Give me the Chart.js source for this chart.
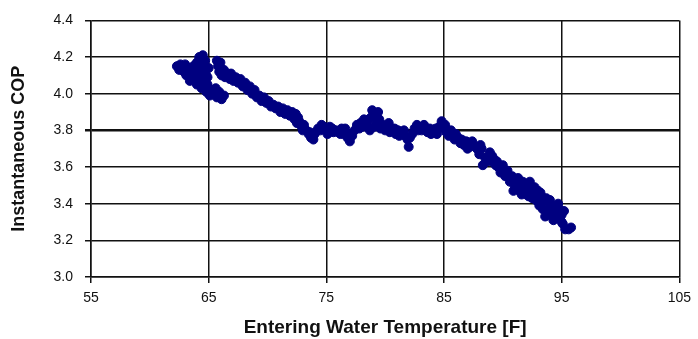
<!DOCTYPE html>
<html>
<head>
<meta charset="utf-8">
<title>Instantaneous COP vs Entering Water Temperature</title>
<script src="https://cdn.jsdelivr.net/npm/chart.js@4.4.1/dist/chart.umd.min.js"></script>
<style>
  html, body { margin: 0; padding: 0; background: #fff; }
  #wrap { width: 698px; height: 339px; }
</style>
</head>
<body>
<div id="wrap"><canvas id="copChart" width="698" height="339"></canvas></div>
<script>
// Entering water temperature [F] for each logged sample
const ewtF = [
  62.3, 62.5, 62.6, 62.8, 63.0, 63.0, 63.2, 63.3, 63.5, 63.6, 63.7, 63.8, 63.9, 64.0, 64.0, 64.1,
  64.2, 64.3, 64.4, 64.4, 64.5, 64.6, 64.7, 64.7, 64.8, 64.9, 65.0, 65.0, 65.1, 65.3, 65.4, 65.6,
  65.7, 65.9, 66.1, 66.3, 63.4, 64.1, 64.6, 64.9, 65.2,
  63.1, 63.6, 63.9, 64.3, 64.5, 64.8, 65.0, 65.5, 62.9,
  65.7, 65.8, 65.9, 66.0, 66.1, 66.3, 66.4, 66.6, 66.8, 66.9, 67.1, 67.3, 67.5, 67.7, 67.9, 68.1,
  68.3, 68.5, 68.7, 68.9, 69.1, 69.3, 69.5, 69.7, 69.9, 70.1, 70.3, 70.5, 70.7, 70.9, 71.1, 71.3,
  71.5, 71.7, 71.9, 72.1, 72.3, 72.4,
  72.5, 72.7, 72.9, 73.1, 73.3, 73.5, 73.7, 73.9, 74.1, 74.3, 74.5, 74.8, 75.0, 75.3, 75.5, 75.8,
  76.0, 76.3, 76.5, 76.8, 77.0, 77.2, 77.4, 77.6, 77.9, 78.1, 78.3, 78.5, 78.7, 78.8, 79.0, 79.2,
  79.3, 79.5, 79.6, 79.8, 80.0, 78.9, 79.4, 79.1, 80.3,
  72.6, 73.0, 73.6, 74.0, 74.6, 75.1, 75.6, 76.2, 76.6, 77.1, 77.8, 78.2, 78.6,
  80.2, 80.4, 80.6, 80.9, 81.1, 81.4, 81.7, 81.9, 82.0, 82.3, 82.5, 82.7, 82.9, 83.1, 83.4, 83.6,
  83.9, 84.1, 84.4, 84.6, 84.8, 85.0, 85.2, 85.4, 85.7, 85.9, 86.2, 86.4,
  80.8, 81.2, 81.6, 82.1, 82.8, 83.3, 83.8, 84.3, 85.1, 85.6, 86.0,
  86.7, 86.9, 87.2, 87.5, 87.8, 88.0, 88.2, 88.3, 88.5, 88.8, 89.0, 89.3, 89.6, 89.8, 90.0, 90.2,
  90.4, 90.6, 90.8, 90.9, 91.1, 91.3, 91.5, 91.7, 91.9, 92.1, 92.2, 92.4, 92.6, 92.8, 93.0, 93.1,
  93.3, 93.5, 93.6, 93.8, 94.0, 94.2, 94.4, 94.6, 94.8, 95.0, 95.1, 95.3, 95.6, 95.8,
  86.5, 87.0, 87.4, 88.1, 88.6, 89.1, 89.5, 89.9,
  88.9, 89.4, 90.1, 90.5, 91.0, 91.4, 91.8, 92.0, 92.3, 92.5, 92.7, 92.9, 93.2, 93.4, 93.7, 93.9,
  94.1, 94.3, 94.5, 94.7, 94.9, 95.2, 95.0, 93.0, 91.6
];

// Instantaneous COP for the same samples
const copValues = [
  4.15, 4.13, 4.16, 4.14, 4.12, 4.16, 4.14, 4.10, 4.13, 4.09, 4.15, 4.07, 4.11, 4.05, 4.17, 4.13,
  4.20, 4.09, 4.03, 4.16, 4.21, 4.12, 4.06, 4.18, 4.01, 4.09, 4.14, 4.03, 3.99, 4.02, 4.00, 4.03,
  3.98, 4.01, 3.97, 3.99, 4.07, 4.07, 4.15, 4.05, 4.01,
  4.10, 4.13, 4.16, 4.13, 4.07, 4.10, 4.00, 4.00, 4.12,
  4.18, 4.15, 4.12, 4.17, 4.10, 4.13, 4.09, 4.11, 4.08, 4.11, 4.07, 4.09, 4.06, 4.08, 4.04, 4.06,
  4.02, 4.04, 4.00, 4.02, 3.98, 3.99, 3.96, 3.98, 3.95, 3.96, 3.93, 3.94, 3.92, 3.93, 3.90, 3.92,
  3.89, 3.91, 3.88, 3.90, 3.86, 3.89,
  3.84, 3.85, 3.82, 3.83, 3.80, 3.78, 3.76, 3.75, 3.79, 3.81, 3.80, 3.82, 3.80, 3.82, 3.81, 3.80,
  3.79, 3.81, 3.78, 3.76, 3.74, 3.77, 3.80, 3.83, 3.84, 3.82, 3.85, 3.83, 3.80, 3.87, 3.89, 3.88,
  3.84, 3.86, 3.81, 3.83, 3.80, 3.91, 3.90, 3.82, 3.84,
  3.87, 3.80, 3.79, 3.78, 3.83, 3.78, 3.79, 3.78, 3.81, 3.78, 3.81, 3.86, 3.86,
  3.82, 3.79, 3.81, 3.78, 3.80, 3.79, 3.77, 3.75, 3.71, 3.78, 3.81, 3.83, 3.82, 3.80, 3.81, 3.79,
  3.78, 3.80, 3.78, 3.82, 3.85, 3.81, 3.79, 3.77, 3.78, 3.75, 3.76, 3.73,
  3.81, 3.77, 3.80, 3.76, 3.80, 3.83, 3.81, 3.81, 3.83, 3.80, 3.78,
  3.72, 3.74, 3.71, 3.72, 3.70, 3.67, 3.70, 3.61, 3.65, 3.66, 3.63, 3.64, 3.60, 3.57, 3.61, 3.55,
  3.58, 3.52, 3.55, 3.47, 3.52, 3.54, 3.49, 3.52, 3.47, 3.51, 3.44, 3.49, 3.46, 3.42, 3.47, 3.39,
  3.44, 3.41, 3.33, 3.37, 3.42, 3.35, 3.39, 3.32, 3.37, 3.34, 3.29, 3.26, 3.26, 3.27,
  3.75, 3.70, 3.74, 3.72, 3.63, 3.66, 3.63, 3.60,
  3.68, 3.61, 3.58, 3.55, 3.50, 3.47, 3.50, 3.45, 3.52, 3.43, 3.49, 3.45, 3.46, 3.37, 3.43, 3.34,
  3.39, 3.31, 3.36, 3.40, 3.33, 3.36, 3.30, 3.41, 3.45
];

// Axis ranges
const xRange = [55, 105];
const xStep = 10;
const yRange = [3.0, 4.4];
const yStep = 0.2;
const boldGridValue = 3.8;

const points = ewtF.map((t, i) => ({ x: t, y: copValues[i] }));

const NAVY = "#000080";
const INK = "#111";

const tickFont = { family: "'Liberation Sans', Arial, sans-serif", size: 14 };
const yTitleFont = { family: "'Liberation Sans', Arial, sans-serif", size: 18, weight: "bold" };
const xTitleFont = { family: "'Liberation Sans', Arial, sans-serif", size: 19, weight: "bold" };

new Chart(document.getElementById("copChart"), {
  type: "scatter",
  data: {
    datasets: [{
      data: points,
      pointStyle: "circle",
      pointRadius: 4.5,
      pointBackgroundColor: NAVY,
      pointBorderColor: NAVY,
      pointBorderWidth: 1,
    }],
  },
  options: {
    responsive: false,
    animation: false,
    layout: { padding: { top: 19, right: 16, bottom: 0, left: 0 } },
    plugins: {
      legend: { display: false },
      tooltip: { enabled: false },
    },
    scales: {
      x: {
        type: "linear",
        min: xRange[0],
        max: xRange[1],
        afterFit: (scale) => { scale.height = 62; },
        ticks: {
          stepSize: xStep,
          color: INK,
          font: tickFont,
          padding: 7,
        },
        grid: { color: INK, lineWidth: 1.5, tickLength: 6 },
        border: { color: INK, width: 1.5 },
        title: {
          display: true,
          text: "Entering Water Temperature [F]",
          color: INK,
          font: xTitleFont,
          padding: { top: 0, bottom: 0 },
        },
      },
      y: {
        min: yRange[0],
        max: yRange[1],
        afterFit: (scale) => { scale.width = 91; },
        ticks: {
          stepSize: yStep,
          color: INK,
          font: tickFont,
          padding: 12,
          callback: (v) => Number(v).toFixed(1),
        },
        grid: {
          color: INK,
          tickLength: 6,
          // the 3.8 reference line is drawn heavier than the rest
          lineWidth: (ctx) => (ctx.tick && Math.abs(ctx.tick.value - boldGridValue) < 1e-6 ? 2.5 : 1.5),
        },
        border: { color: INK, width: 1.5 },
        title: {
          display: true,
          text: "Instantaneous COP",
          color: INK,
          font: yTitleFont,
          padding: { top: 8, bottom: 0 },
        },
      },
    },
  },
});
</script>
</body>
</html>
